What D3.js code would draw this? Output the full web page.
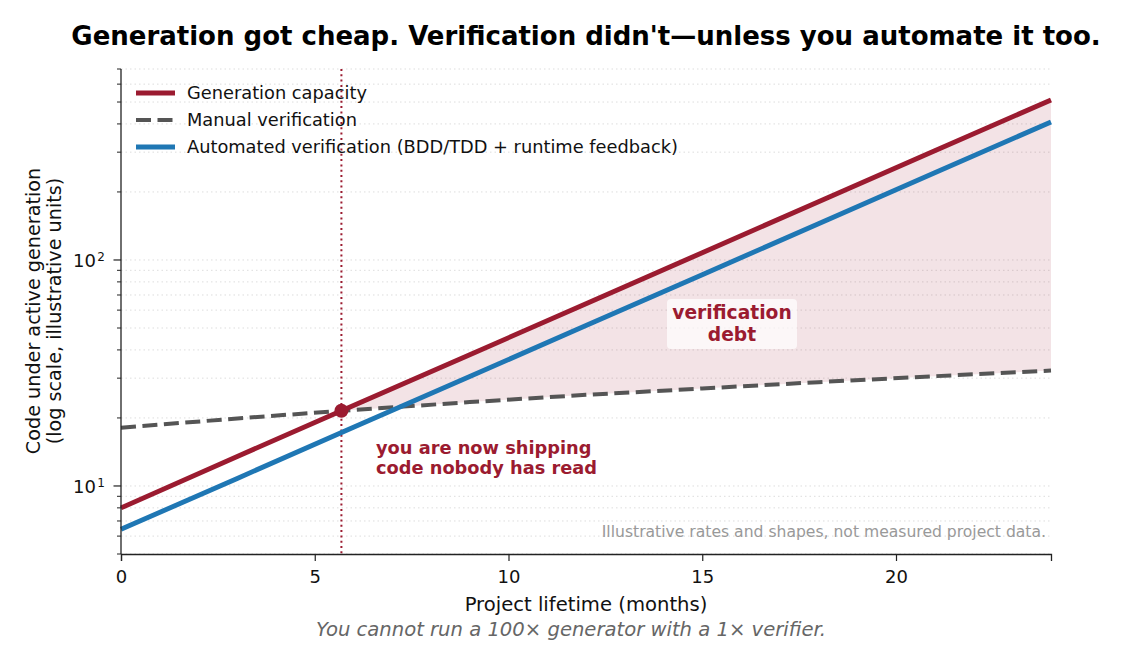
<!DOCTYPE html>
<html>
<head>
<meta charset="utf-8">
<script src="https://cdn.jsdelivr.net/npm/d3@7"></script>
<style>
  html, body { margin: 0; padding: 0; background: #fff; }
  svg { display: block; font-family: "DejaVu Sans", sans-serif; }
</style>
</head>
<body>
<div id="chart"></div>
<script>
// values
const months = [0, 3, 6, 9, 12, 15, 18, 21, 24];
const generation = [8.0, 13.5, 22.7, 38.1, 64.0, 107.7, 181, 304, 511];
const manualVerification = [18.1, 19.9, 21.7, 23.5, 25.3, 27.0, 28.8, 30.6, 32.4];
const automatedVerification = [6.43, 10.8, 18.2, 30.5, 51.3, 86.1, 144.7, 243, 408];

const xTicks = [0, 5, 10, 15, 20];
const yDomain = [5, 700];

const seriesNames = [
  'Generation capacity',
  'Manual verification',
  'Automated verification (BDD/TDD + runtime feedback)'
];

const RED = '#9b1b30';
const GREY = '#555555';
const BLUE = '#1f77b4';
const DASH = '15,6.5';

const width = 1124, height = 664;
const margin = { top: 69, right: 73, bottom: 110, left: 121 };
const innerW = width - margin.left - margin.right;
const innerH = height - margin.top - margin.bottom;

const svg = d3.select('#chart')
  .append('svg')
  .attr('width', width)
  .attr('height', height);

const x = d3.scaleLinear().domain([0, 24]).range([margin.left, margin.left + innerW]);
const y = d3.scaleLog().domain(yDomain).range([margin.top + innerH, margin.top]);

// minor + major log ticks
const yTicksAll = [];
for (let dec = 1; dec <= 100; dec *= 10) {
  for (let m = 1; m <= 9; m++) {
    const v = m * dec;
    if (v >= yDomain[0] && v <= yDomain[1]) yTicksAll.push(v);
  }
}
const yMajor = [10, 100];

// grid
svg.append('g')
  .selectAll('line')
  .data(yTicksAll)
  .join('line')
  .attr('x1', margin.left)
  .attr('x2', margin.left + innerW)
  .attr('y1', d => y(d))
  .attr('y2', d => y(d))
  .attr('stroke', '#dddddd')
  .attr('stroke-width', 1)
  .attr('stroke-dasharray', '1.5,3');

// find the crossover of generation and manual (in log space)
let cross = null;
for (let i = 0; i < months.length - 1; i++) {
  const d0 = Math.log(generation[i]) - Math.log(manualVerification[i]);
  const d1 = Math.log(generation[i + 1]) - Math.log(manualVerification[i + 1]);
  if (d0 <= 0 && d1 > 0) {
    const t = d0 / (d0 - d1);
    const m = months[i] + t * (months[i + 1] - months[i]);
    const g = Math.exp(Math.log(generation[i]) + t * (Math.log(generation[i + 1]) - Math.log(generation[i])));
    cross = { month: m, value: g, index: i };
    break;
  }
}

// shaded debt region
const fillPts = [{ m: cross.month, hi: cross.value, lo: cross.value }];
months.forEach((m, i) => {
  if (m > cross.month) fillPts.push({ m, hi: generation[i], lo: manualVerification[i] });
});
svg.append('path')
  .datum(fillPts)
  .attr('fill', RED)
  .attr('fill-opacity', 0.12)
  .attr('d', d3.area()
    .x(d => x(d.m))
    .y0(d => y(d.lo))
    .y1(d => y(d.hi)));

// vertical crossover marker line
svg.append('line')
  .attr('x1', x(cross.month))
  .attr('x2', x(cross.month))
  .attr('y1', margin.top)
  .attr('y2', margin.top + innerH)
  .attr('stroke', RED)
  .attr('stroke-width', 2)
  .attr('stroke-dasharray', '2,3.3');

const line = d3.line().x(d => x(d[0])).y(d => y(d[1]));

svg.append('path')
  .datum(months.map((m, i) => [m, manualVerification[i]]))
  .attr('fill', 'none')
  .attr('stroke', GREY)
  .attr('stroke-width', 4)
  .attr('stroke-dasharray', DASH)
  .attr('d', line);

svg.append('path')
  .datum(months.map((m, i) => [m, automatedVerification[i]]))
  .attr('fill', 'none')
  .attr('stroke', BLUE)
  .attr('stroke-width', 4.9)
  .attr('d', line);

svg.append('path')
  .datum(months.map((m, i) => [m, generation[i]]))
  .attr('fill', 'none')
  .attr('stroke', RED)
  .attr('stroke-width', 4.9)
  .attr('d', line);

svg.append('circle')
  .attr('cx', x(cross.month))
  .attr('cy', y(cross.value))
  .attr('r', 7)
  .attr('fill', RED);

// axes
const xAxis = svg.append('g')
  .attr('transform', `translate(0,${margin.top + innerH})`)
  .call(d3.axisBottom(x).tickValues(xTicks).tickSize(7).tickPadding(9).tickFormat(d3.format('d')));
xAxis.attr('font-size', null).attr('font-family', null);
xAxis.select('.domain').attr('stroke', '#222').attr('stroke-width', 1.3);
xAxis.selectAll('.tick line').attr('stroke', '#222').attr('stroke-width', 1.2);
xAxis.selectAll('text').style('font-size', '18px').attr('fill', '#111');

const yAxisG = svg.append('g').attr('transform', `translate(${margin.left},0)`);
yAxisG.append('line')
  .attr('x1', 0).attr('x2', 0)
  .attr('y1', margin.top).attr('y2', margin.top + innerH)
  .attr('stroke', '#222').attr('stroke-width', 1.3);
yAxisG.selectAll('.ytick')
  .data(yTicksAll)
  .join('line')
  .attr('x1', d => yMajor.includes(d) ? -7.5 : -4)
  .attr('x2', 0)
  .attr('y1', d => y(d))
  .attr('y2', d => y(d))
  .attr('stroke', '#222')
  .attr('stroke-width', d => yMajor.includes(d) ? 1.2 : 1);

const yLab = yAxisG.selectAll('.ylab')
  .data(yMajor)
  .join('text')
  .attr('x', -16)
  .attr('y', d => y(d) + 7.5)
  .attr('text-anchor', 'end')
  .style('font-size', '18px')
  .attr('fill', '#111');
yLab.append('tspan').text('10');
yLab.append('tspan')
  .style('font-size', '12px')
  .attr('dx', 1.5)
  .attr('dy', -6.5)
  .text(d => Math.round(Math.log10(d)));

// legend
const legend = svg.append('g').attr('transform', 'translate(136,93)');
const legendStyles = [
  { c: RED, w: 4.9, dash: null },
  { c: GREY, w: 4, dash: DASH },
  { c: BLUE, w: 4.9, dash: null }
];
seriesNames.forEach((name, i) => {
  const gi = legend.append('g').attr('transform', `translate(0,${i * 27})`);
  gi.append('line')
    .attr('x1', 0).attr('x2', 39)
    .attr('stroke', legendStyles[i].c)
    .attr('stroke-width', legendStyles[i].w)
    .attr('stroke-dasharray', legendStyles[i].dash);
  gi.append('text')
    .attr('x', 51).attr('y', 6)
    .attr('font-size', 17.8)
    .attr('fill', '#111')
    .text(name);
});

// annotations
const debtX = 732, debtY = 324;
svg.append('rect')
  .attr('x', debtX - 65).attr('y', debtY - 25)
  .attr('width', 130).attr('height', 50)
  .attr('rx', 4)
  .attr('fill', '#ffffff')
  .attr('fill-opacity', 0.7);
svg.append('text')
  .attr('x', debtX).attr('y', 319)
  .attr('text-anchor', 'middle')
  .attr('font-size', 18.7).attr('font-weight', 'bold')
  .attr('fill', RED)
  .text('verification');
svg.append('text')
  .attr('x', debtX).attr('y', 341)
  .attr('text-anchor', 'middle')
  .attr('font-size', 18.7).attr('font-weight', 'bold')
  .attr('fill', RED)
  .text('debt');

svg.append('text')
  .attr('x', 376).attr('y', 454)
  .attr('font-size', 17.8).attr('font-weight', 'bold')
  .attr('fill', RED)
  .text('you are now shipping');
svg.append('text')
  .attr('x', 376).attr('y', 474)
  .attr('font-size', 17.8).attr('font-weight', 'bold')
  .attr('fill', RED)
  .text('code nobody has read');

svg.append('text')
  .attr('x', 1046).attr('y', 537)
  .attr('text-anchor', 'end')
  .attr('font-size', 15.6)
  .attr('fill', '#999999')
  .text('Illustrative rates and shapes, not measured project data.');

// titles and labels
svg.append('text')
  .attr('x', 586).attr('y', 45)
  .attr('text-anchor', 'middle')
  .attr('font-size', 26).attr('font-weight', 'bold')
  .attr('fill', '#000')
  .text("Generation got cheap. Verification didn't\u2014unless you automate it too.");

svg.append('text')
  .attr('x', 586).attr('y', 611)
  .attr('text-anchor', 'middle')
  .attr('font-size', 19.6)
  .attr('fill', '#111')
  .text('Project lifetime (months)');

svg.append('text')
  .attr('transform', 'translate(40,311) rotate(-90)')
  .attr('text-anchor', 'middle')
  .attr('font-size', 19.2)
  .attr('fill', '#111')
  .text('Code under active generation');
svg.append('text')
  .attr('transform', 'translate(61,311) rotate(-90)')
  .attr('text-anchor', 'middle')
  .attr('font-size', 19.2)
  .attr('fill', '#111')
  .text('(log scale, illustrative units)');

svg.append('text')
  .attr('x', 571).attr('y', 636)
  .attr('text-anchor', 'middle')
  .attr('font-size', 19.6)
  .attr('font-style', 'italic')
  .attr('fill', '#666666')
  .text('You cannot run a 100\u00d7 generator with a 1\u00d7 verifier.');
</script>
</body>
</html>
